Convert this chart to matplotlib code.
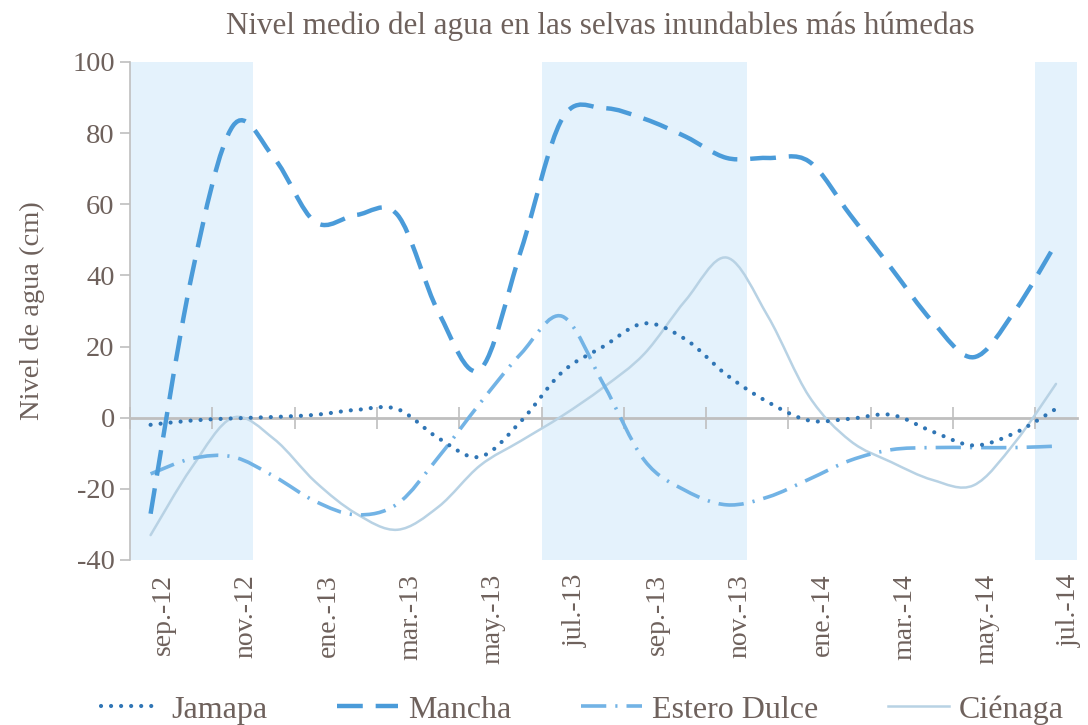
import numpy as np
import matplotlib
matplotlib.use("Agg")
import matplotlib.pyplot as plt
from matplotlib.path import Path
from matplotlib.patches import PathPatch
from matplotlib.lines import Line2D

# months from sep-12 (index 0) to jul-14 (index 22)
month_labels = ["sep.-12", "nov.-12", "ene.-13", "mar.-13", "may.-13", "jul.-13",
                "sep.-13", "nov.-13", "ene.-14", "mar.-14", "may.-14", "jul.-14"]
months = np.arange(23)

jamapa = [-2, -0.8, -0.2, 0.2, 0.8, 2.2, 2.4, -5.8, -11, -1, 12.8, 20,
          26.5, 22, 12, 4.4, -0.8, -0.3, 0.8, -3.9, -7.8, -4.3, 2.5]
mancha = [-27, 40, 82, 73, 55, 57, 57, 29.5, 13.5, 47, 84, 87,
          84, 79, 73, 73, 72, 57, 42, 27, 17, 30, 49]
estero = [-15.8, -11.5, -11, -16.5, -23.5, -27.3, -24.2, -11, 4, 18, 28.5, 9.5,
          -12, -20.5, -24.5, -22.3, -17.3, -12, -9, -8.4, -8.4, -8.4, -8]
cienaga = [-33, -14, 0, -6, -18, -27, -31.5, -25, -13.5, -6.5, 0.5, 8.5,
           18, 33, 45, 28.5, 6, -6.5, -12.5, -17.5, -19, -7, 9.5]

# wet-season shading (first / last month index)
wet_seasons = [(0, 2), (10, 14), (22, 22)]

text_col = "#6e615c"
plt.rcParams["font.family"] = ["Liberation Serif", "DejaVu Serif"]
plt.rcParams["axes.unicode_minus"] = False


def smooth_path(x, y):
    # excel-like smoothed line: bezier segments through every point
    p = np.column_stack([x, y]).astype(float)
    ext = np.vstack([p[0], p, p[-1]])
    verts = [p[0]]
    codes = [Path.MOVETO]
    for i in range(len(p) - 1):
        a, b, c, d = ext[i], ext[i + 1], ext[i + 2], ext[i + 3]
        verts += [b + (c - a) / 6, c - (d - b) / 6, c]
        codes += [Path.CURVE4] * 3
    return Path(verts, codes)


fig = plt.figure(figsize=(10.88, 7.25), dpi=100)
ax = fig.add_axes([0.1195, 0.2276, 0.870, 0.687])

for s, e in wet_seasons:
    ax.axvspan(s - 0.5, e + 0.5, color="#e4f2fc", lw=0, zorder=0)

series = [
    ("Jamapa", jamapa, dict(color="#2f75b5", lw=3.0, ls=(0, (0.01, 2.4)), cap="round")),
    ("Mancha", mancha, dict(color="#4a9bd9", lw=3.2, ls=(0, (5.8, 2.9)), cap="butt")),
    ("Estero Dulce", estero, dict(color="#72b3e5", lw=2.6, ls=(0, (7, 2.5, 0.6, 2.5)), cap="butt")),
    ("Ciénaga", cienaga, dict(color="#b8d2e4", lw=1.8, ls="-", cap="round")),
]

handles = []
for name, vals, st in series[::-1]:
    patch = PathPatch(smooth_path(months, vals), fill=False, edgecolor=st["color"],
                      lw=st["lw"], ls=st["ls"], capstyle=st["cap"], zorder=3)
    ax.add_patch(patch)
for name, vals, st in series:
    handles.append(Line2D([], [], color=st["color"], lw=st["lw"], ls=st["ls"],
                          dash_capstyle=st["cap"], label=name))

ax.set_xlim(-0.5, 22.5)
ax.set_ylim(-40, 100)
ax.set_yticks(range(-40, 101, 20))
# labels sit a bit right of their month, as in the original
ax.set_xticks(months[::2] + 0.32)
ax.set_xticklabels(month_labels, rotation=90, fontsize=20, color=text_col)
ax.tick_params(axis="x", length=0, pad=10)
ax.tick_params(axis="y", labelsize=20.5, labelcolor=text_col, color="#bfbfbf",
               length=7, width=1.2, pad=4)

for side in ["top", "right", "bottom"]:
    ax.spines[side].set_visible(False)
ax.spines["left"].set_color("#bfbfbf")
ax.spines["left"].set_linewidth(1.2)

# category axis crossing at zero
zero_ax = ax.secondary_xaxis(40 / 140)
zero_ax.set_xticks(np.arange(-0.5, 23, 2))
zero_ax.tick_params(direction="inout", length=16, width=1.2, color="#bfbfbf",
                    labelbottom=False, labeltop=False)
zero_ax.spines["bottom"].set_color("#bfbfbf")
zero_ax.spines["bottom"].set_linewidth(2)
zero_ax.spines["top"].set_visible(False)

ax.set_ylabel("Nivel de agua (cm)", fontsize=20.5, color=text_col)
ax.yaxis.set_label_coords(-0.09, 0.5)

fig.text(0.5515, 0.964, "Nivel medio del agua en las selvas inundables más húmedas",
         ha="center", va="center", fontsize=22.3, color=text_col)

fig.legend(handles=handles, loc="center", bbox_to_anchor=(0.535, 0.021), ncol=4,
           frameon=False, fontsize=23, labelcolor=text_col, handlelength=1.9,
           handletextpad=0.3, columnspacing=2.2)

fig.savefig("out.png", dpi=100)
